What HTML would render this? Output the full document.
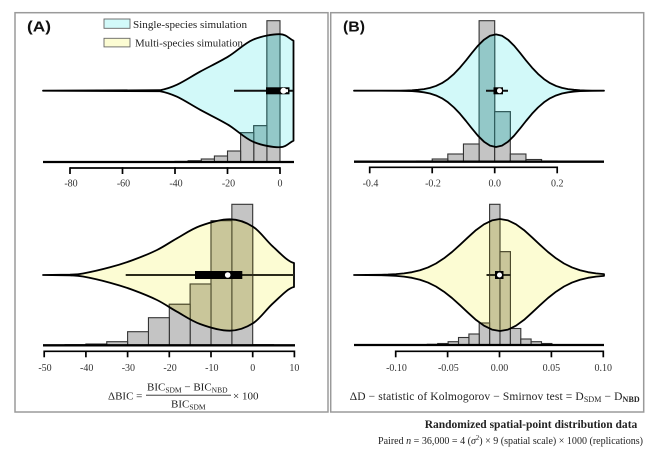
<!DOCTYPE html>
<html>
<head>
<meta charset="utf-8">
<style>
  html, body { margin: 0; padding: 0; background: #ffffff; }
  svg { display: block; }
  text { font-family: "Liberation Serif", "DejaVu Serif", serif; fill: #222; }
  .tick { font-size: 10px; fill: #333; }
  .lab { font-family: "Liberation Sans", "DejaVu Sans", sans-serif; font-weight: bold; font-size: 15px; fill: #111; }
</style>
</head>
<body>
<svg width="658" height="456" viewBox="0 0 658 456" xmlns="http://www.w3.org/2000/svg">
  <rect x="0" y="0" width="658" height="456" fill="#ffffff"/>

  <defs>
    <path id="vA1" d="M43,90.7 L160,90.2 C165.7,89.2 170.3,87.8 177,84.7 C183.7,81.6 191.5,76.4 200,71.7 C208.5,67 219.2,62 228,56.7 C236.8,51.4 244.3,43.45 253,39.7 C261.7,35.95 273.3,34 280,34.2 C286.7,34.4 288.7,38.5 293.5,40.7 L293.5,140.7 C288.7,142.9 286.7,147 280,147.2 C273.3,147.4 261.7,145.45 253,141.7 C244.3,137.950 236.8,130 228,124.7 C219.2,119.4 208.5,114.4 200,109.7 C191.5,105 183.7,99.8 177,96.7 C170.3,93.6 165.7,92.2 160,91.2 L43,90.7 Z"/>
    <path id="vA2" d="M43,275 L70,274.7 C74.3,274.45 76.3,274.73 83,273.5 C89.7,272.27 101.7,269.55 110,267.3 C118.3,265.05 125.2,262.9 133,260 C140.8,257.1 149.7,253.6 157,250 C164.3,246.4 169.8,242.3 177,238.3 C184.2,234.3 191.2,229.2 200,226 C208.8,222.8 221.2,219.2 230,219.3 C238.8,219.4 245.8,222.1 253,226.7 C260.2,231.3 266.2,240.65 273,246.7 C279.8,252.75 288,262 294,263 L294,287 C288,288 279.8,297.25 273,303.3 C266.2,309.35 260.2,318.7 253,323.3 C245.8,327.9 238.8,330.6 230,330.7 C221.2,330.8 208.8,327.2 200,324 C191.2,320.8 184.2,315.7 177,311.7 C169.8,307.7 164.3,303.6 157,300 C149.7,296.4 140.8,292.9 133,290 C125.2,287.1 118.3,284.95 110,282.7 C101.7,280.45 89.7,277.73 83,276.5 C76.3,275.27 74.3,275.55 70,275.3 L43,275 Z"/>
    <path id="vB1" d="M354,90.7 L400,90.6 L406,90.48 L412,90.26 L418,89.83 L424,89.09 L430,87.87 L436,85.93 L442,83.1 L448,79.1 L454,73.9 L460,67.6 L466,60.4 L472,52.8 L478,45.6 L484,39.7 L490,35.8 L496,34.4 L502,35.8 L508,39.7 L514,45.6 L520,52.8 L526,60.4 L532,67.6 L538,73.9 L544,79.1 L550,83.1 L556,85.93 L562,87.87 L568,89.09 L574,89.83 L580,90.26 L586,90.48 L592,90.6 L604,90.7 L592,90.8 L586,90.92 L580,91.14 L574,91.57 L568,92.31 L562,93.53 L556,95.47 L550,98.3 L544,102.3 L538,107.5 L532,113.8 L526,121 L520,128.6 L514,135.8 L508,141.7 L502,145.6 L496,147 L490,145.6 L484,141.7 L478,135.8 L472,128.6 L466,121 L460,113.8 L454,107.5 L448,102.3 L442,98.3 L436,95.47 L430,93.53 L424,92.31 L418,91.57 L412,91.14 L406,90.92 L400,90.8 Z"/>
    <path id="vB2" d="M354,275 L380,274.78 L388,274.56 L396,274.14 L404,273.4 L412,272.18 L420,270.26 L428,267.44 L436,263.5 L444,258.3 L452,252 L460,244.8 L468,237.3 L476,230.1 L484,224.3 L492,220.4 L500,219 L508,220.4 L516,224.3 L524,230.1 L532,237.3 L540,244.8 L548,252 L556,258.3 L564,263.5 L572,267.44 L580,270.26 L588,272.18 L596,273.4 L604,274.14 L604,275.86 L596,276.6 L588,277.82 L580,279.74 L572,282.56 L564,286.5 L556,291.7 L548,298 L540,305.2 L532,312.7 L524,319.9 L516,325.7 L508,329.6 L500,331 L492,329.6 L484,325.7 L476,319.9 L468,312.7 L460,305.2 L452,298 L444,291.7 L436,286.5 L428,282.56 L420,279.74 L412,277.82 L404,276.6 L396,275.86 L388,275.44 L380,275.22 Z"/>

    <clipPath id="cA1"><use href="#vA1"/></clipPath>
    <clipPath id="cA2"><use href="#vA2"/></clipPath>
    <clipPath id="cB1"><use href="#vB1"/></clipPath>
    <clipPath id="cB2"><use href="#vB2"/></clipPath>
  </defs>

  <!-- Panel frames -->
  <rect x="15" y="12.7" width="313" height="399.3" fill="none" stroke="#9a9a9a" stroke-width="1.5"/>
  <rect x="330.7" y="12.7" width="313" height="399.3" fill="none" stroke="#9a9a9a" stroke-width="1.5"/>

  <!-- ============ PANEL A TOP ============ -->
  <use href="#vA1" fill="#d2f9f9" stroke="none"/>
  <g fill="#c4c4c4" stroke="#333" stroke-width="1.1">
    <g id="barsA1">
      <rect x="266.9" y="20.7" width="13.1" height="141.3"/>
      <rect x="253.75" y="125.7" width="13.15" height="36.3"/>
      <rect x="240.6" y="132.7" width="13.15" height="29.3"/>
      <rect x="227.5" y="151" width="13.1" height="11"/>
      <rect x="214.4" y="156" width="13.1" height="6"/>
      <rect x="201.25" y="159" width="13.15" height="3"/>
      <rect x="188.1" y="160.7" width="13.15" height="1.3"/>
      <rect x="175" y="161.4" width="13.1" height="0.6"/>
    </g>
  </g>
  <g clip-path="url(#cA1)">
    <use href="#barsA1" fill="#93c8c8" stroke="#2c5a5a" stroke-width="1.1"/>
  </g>
  <line x1="43" y1="162" x2="294" y2="162" stroke="#000" stroke-width="2.3"/>
  <use href="#vA1" fill="none" stroke="#000" stroke-width="1.8" stroke-linejoin="round"/>
  <!-- box plot -->
  <line x1="234" y1="90.7" x2="293" y2="90.7" stroke="#111" stroke-width="2"/>
  <rect x="266" y="87.3" width="23.5" height="7" fill="#000"/>
  <rect x="283.5" y="89.2" width="4.5" height="3" fill="#fff"/>
  <circle cx="283.5" cy="90.7" r="3" fill="#fff"/>
  <!-- axis -->
  <g stroke="#000" stroke-width="1.7">
    <line x1="70" y1="168" x2="280" y2="168"/>
    <line x1="70" y1="167.2" x2="70" y2="174"/>
    <line x1="122.5" y1="167.2" x2="122.5" y2="174"/>
    <line x1="175" y1="167.2" x2="175" y2="174"/>
    <line x1="227.5" y1="167.2" x2="227.5" y2="174"/>
    <line x1="280" y1="167.2" x2="280" y2="174"/>
  </g>
  <g text-anchor="middle">
    <text class="tick" x="71" y="186.5">-80</text>
    <text class="tick" x="123.5" y="186.5">-60</text>
    <text class="tick" x="176" y="186.5">-40</text>
    <text class="tick" x="228.5" y="186.5">-20</text>
    <text class="tick" x="280" y="186.5">0</text>
  </g>

  <!-- Legend -->
  <rect x="104" y="19" width="26" height="9.3" fill="#d2f9f9" stroke="#666" stroke-width="0.9"/>
  <text x="133" y="27.8" font-size="11" textLength="114" lengthAdjust="spacingAndGlyphs" fill="#333">Single-species simulation</text>
  <rect x="104" y="38.3" width="26" height="8.6" fill="#fcfcd3" stroke="#666" stroke-width="0.9"/>
  <text x="135" y="46.6" font-size="11" textLength="108" lengthAdjust="spacingAndGlyphs" fill="#333">Multi-species simulation</text>

  <text class="lab" x="27" y="31.5" textLength="24" lengthAdjust="spacingAndGlyphs">(A)</text>

  <!-- ============ PANEL A BOTTOM ============ -->
  <use href="#vA2" fill="#fcfcd3" stroke="none"/>
  <g fill="#c4c4c4" stroke="#333" stroke-width="1.1">
    <g id="barsA2">
      <rect x="231.85" y="204.3" width="20.85" height="141"/>
      <rect x="211" y="220.7" width="20.85" height="124.6"/>
      <rect x="190.15" y="284" width="20.85" height="61.3"/>
      <rect x="169.3" y="304.3" width="20.85" height="41"/>
      <rect x="148.45" y="317.7" width="20.85" height="27.6"/>
      <rect x="127.6" y="331.7" width="20.85" height="13.6"/>
      <rect x="106.75" y="341.7" width="20.85" height="3.6"/>
      <rect x="85.9" y="344" width="20.85" height="1.3"/>
      <rect x="65.05" y="344.7" width="20.85" height="0.6"/>
      <rect x="252.7" y="344.7" width="20.85" height="0.6"/>
    </g>
  </g>
  <g clip-path="url(#cA2)">
    <use href="#barsA2" fill="#c9c69a" stroke="#4d4b2c" stroke-width="1.1"/>
  </g>
  <line x1="43" y1="345.3" x2="295" y2="345.3" stroke="#000" stroke-width="2.3"/>
  <use href="#vA2" fill="none" stroke="#000" stroke-width="1.8" stroke-linejoin="round"/>
  <!-- box plot -->
  <line x1="125.7" y1="275" x2="294" y2="275" stroke="#2a2a1a" stroke-width="2"/>
  <rect x="195" y="271" width="47.3" height="8" fill="#000"/>
  <circle cx="227.7" cy="275" r="2.8" fill="#fff"/>
  <!-- axis -->
  <g stroke="#000" stroke-width="1.7">
    <line x1="44.2" y1="351.3" x2="294.4" y2="351.3"/>
    <line x1="44.2" y1="350.5" x2="44.2" y2="357.3"/>
    <line x1="85.9" y1="350.5" x2="85.9" y2="357.3"/>
    <line x1="127.6" y1="350.5" x2="127.6" y2="357.3"/>
    <line x1="169.3" y1="350.5" x2="169.3" y2="357.3"/>
    <line x1="211" y1="350.5" x2="211" y2="357.3"/>
    <line x1="252.7" y1="350.5" x2="252.7" y2="357.3"/>
    <line x1="294.4" y1="350.5" x2="294.4" y2="357.3"/>
  </g>
  <g text-anchor="middle">
    <text class="tick" x="45" y="371">-50</text>
    <text class="tick" x="86.7" y="371">-40</text>
    <text class="tick" x="128.4" y="371">-30</text>
    <text class="tick" x="170.1" y="371">-20</text>
    <text class="tick" x="211.8" y="371">-10</text>
    <text class="tick" x="252.7" y="371">0</text>
    <text class="tick" x="294.4" y="371">10</text>
  </g>
  <!-- formula A -->
  <text x="108" y="399.5" font-size="11">ΔBIC =</text>
  <text x="147" y="390.3" font-size="11">BIC<tspan font-size="7.5" dy="2">SDM</tspan><tspan dy="-2"> − BIC</tspan><tspan font-size="7.5" dy="2">NBD</tspan></text>
  <line x1="146" y1="395.2" x2="231" y2="395.2" stroke="#222" stroke-width="0.8"/>
  <text x="171" y="407.5" font-size="11">BIC<tspan font-size="7.5" dy="2">SDM</tspan></text>
  <text x="233" y="399.5" font-size="11">× 100</text>

  <!-- ============ PANEL B TOP ============ -->
  <use href="#vB1" fill="#d2f9f9" stroke="none"/>
  <g fill="#c4c4c4" stroke="#333" stroke-width="1.1">
    <g id="barsB1">
      <rect x="479.1" y="20.7" width="15.6" height="141"/>
      <rect x="494.7" y="111.7" width="15.6" height="50"/>
      <rect x="463.45" y="144" width="15.65" height="17.7"/>
      <rect x="447.8" y="154" width="15.65" height="7.7"/>
      <rect x="510.3" y="154" width="15.65" height="7.7"/>
      <rect x="432.2" y="159" width="15.6" height="2.7"/>
      <rect x="525.95" y="159.5" width="15.65" height="2.2"/>
      <rect x="541.6" y="161" width="15.6" height="0.7"/>
      <rect x="416.6" y="161" width="15.6" height="0.7"/>
    </g>
  </g>
  <g clip-path="url(#cB1)">
    <use href="#barsB1" fill="#93c8c8" stroke="#2c5a5a" stroke-width="1.1"/>
  </g>
  <line x1="354" y1="161.7" x2="604" y2="161.7" stroke="#000" stroke-width="2.3"/>
  <use href="#vB1" fill="none" stroke="#000" stroke-width="1.8" stroke-linejoin="round"/>
  <!-- box plot -->
  <line x1="486" y1="90.7" x2="508" y2="90.7" stroke="#111" stroke-width="2"/>
  <rect x="493.5" y="87.3" width="9.5" height="7" fill="#000"/>
  <circle cx="499.5" cy="90.7" r="2.5" fill="#fff"/>
  <!-- axis -->
  <g stroke="#000" stroke-width="1.7">
    <line x1="369.7" y1="167.3" x2="557.2" y2="167.3"/>
    <line x1="369.7" y1="166.5" x2="369.7" y2="173.3"/>
    <line x1="432.2" y1="166.5" x2="432.2" y2="173.3"/>
    <line x1="494.7" y1="166.5" x2="494.7" y2="173.3"/>
    <line x1="557.2" y1="166.5" x2="557.2" y2="173.3"/>
  </g>
  <g text-anchor="middle">
    <text class="tick" x="370.5" y="186.5">-0.4</text>
    <text class="tick" x="433" y="186.5">-0.2</text>
    <text class="tick" x="494.7" y="186.5">0.0</text>
    <text class="tick" x="557.2" y="186.5">0.2</text>
  </g>

  <text class="lab" x="343" y="31.5" textLength="22" lengthAdjust="spacingAndGlyphs">(B)</text>

  <!-- ============ PANEL B BOTTOM ============ -->
  <use href="#vB2" fill="#fcfcd3" stroke="none"/>
  <g fill="#c4c4c4" stroke="#333" stroke-width="1.1">
    <g id="barsB2">
      <rect x="489.6" y="204.3" width="10.4" height="140.5"/>
      <rect x="500" y="251.7" width="10.4" height="93.1"/>
      <rect x="479.2" y="323" width="10.4" height="21.8"/>
      <rect x="510.4" y="328.5" width="10.4" height="16.3"/>
      <rect x="468.9" y="334" width="10.3" height="10.8"/>
      <rect x="520.8" y="339" width="10.3" height="5.8"/>
      <rect x="458.5" y="337.5" width="10.4" height="7.3"/>
      <rect x="531.1" y="341.7" width="10.4" height="3.1"/>
      <rect x="448.1" y="341.7" width="10.4" height="3.1"/>
      <rect x="541.5" y="343.5" width="10.4" height="1.3"/>
      <rect x="437.7" y="343.5" width="10.4" height="1.3"/>
      <rect x="427.3" y="344.3" width="10.4" height="0.5"/>
    </g>
  </g>
  <g clip-path="url(#cB2)">
    <use href="#barsB2" fill="#c9c69a" stroke="#4d4b2c" stroke-width="1.1"/>
  </g>
  <line x1="354" y1="345" x2="604" y2="345" stroke="#000" stroke-width="2.3"/>
  <use href="#vB2" fill="none" stroke="#000" stroke-width="1.8" stroke-linejoin="round"/>
  <!-- box plot -->
  <line x1="486.5" y1="275" x2="510.5" y2="275" stroke="#2a2a1a" stroke-width="2"/>
  <rect x="495" y="271" width="8.5" height="8" fill="#000"/>
  <circle cx="499.5" cy="275" r="2.5" fill="#fff"/>
  <!-- axis -->
  <g stroke="#000" stroke-width="1.7">
    <line x1="395.7" y1="351.3" x2="603.3" y2="351.3"/>
    <line x1="395.7" y1="350.5" x2="395.7" y2="357.3"/>
    <line x1="447.6" y1="350.5" x2="447.6" y2="357.3"/>
    <line x1="499.5" y1="350.5" x2="499.5" y2="357.3"/>
    <line x1="551.4" y1="350.5" x2="551.4" y2="357.3"/>
    <line x1="603.3" y1="350.5" x2="603.3" y2="357.3"/>
  </g>
  <g text-anchor="middle">
    <text class="tick" x="396.5" y="371">-0.10</text>
    <text class="tick" x="448.4" y="371">-0.05</text>
    <text class="tick" x="499.5" y="371">0.00</text>
    <text class="tick" x="551.4" y="371">0.05</text>
    <text class="tick" x="603.3" y="371">0.10</text>
  </g>
  <!-- formula B -->
  <text x="349.7" y="400" font-size="11.5" textLength="290" lengthAdjust="spacing">ΔD − statistic of Kolmogorov − Smirnov test = D<tspan font-size="8" dy="2">SDM</tspan><tspan dy="-2">  − D</tspan><tspan font-size="8" dy="2" font-weight="bold">NBD</tspan></text>

  <!-- Footer -->
  <text x="424.7" y="428" font-size="11.5" font-weight="bold" textLength="212.6" lengthAdjust="spacingAndGlyphs" fill="#111">Randomized spatial-point distribution data</text>
  <text x="378" y="444" font-size="10.5" textLength="265" lengthAdjust="spacingAndGlyphs" fill="#333">Paired <tspan font-style="italic">n</tspan> = 36,000 = 4 (<tspan font-style="italic">σ</tspan><tspan font-size="7" dy="-4">2</tspan><tspan dy="4">) × 9 (spatial scale) × 1000 (replications)</tspan></text>
</svg>
</body>
</html>
